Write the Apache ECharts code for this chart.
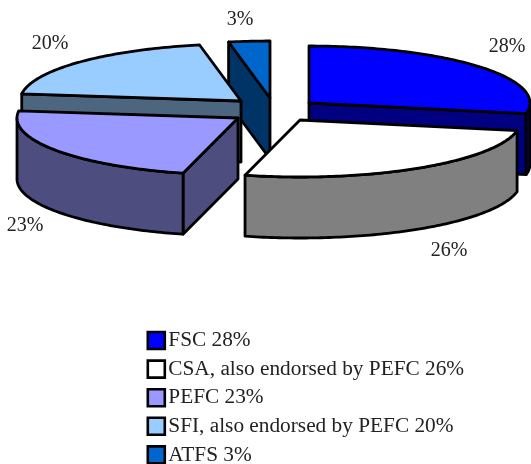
<!DOCTYPE html>
<html><head><meta charset="utf-8">
<style>html,body{margin:0;padding:0;background:#fff}#c{width:531px;height:464px}</style>
<script src="https://cdn.jsdelivr.net/npm/echarts@6/dist/echarts.min.js"></script>
</head><body><div id="c"></div>
<script>
// data
var names = ['FSC', 'CSA, also endorsed by PEFC', 'PEFC', 'SFI, also endorsed by PEFC', 'ATFS'];
var values = [28, 26, 23, 20, 3];
// styles
var topColors = ['#0000ff', '#ffffff', '#9999ff', '#99ccff', '#0066cc'];
var sideColors = ['#000080', '#808080', '#4d4d80', '#4d6680', '#003366'];
// layout: where each exploded wedge's tip sits, its label, and its paint order
var tipX = [309, 300, 238, 241, 270];
var tipY = [103, 120, 118, 101, 98];
var labelX = [507, 449, 25, 50, 240];
var labelY = [47, 251, 226, 44, 20];
var paintOrder = [2, 5, 4, 3, 1];
var RX = 221, RY = 57, DEPTH = 61;

var total = values.reduce(function (a, b) { return a + b; }, 0);
var starts = [], acc = 0;
values.forEach(function (v) { starts.push(acc / total * 360); acc += v; });
function rad(d) { return d * Math.PI / 180; }
function pt(i, deg, dz) {
  return [tipX[i] + RX * Math.sin(rad(deg)), tipY[i] - RY * Math.cos(rad(deg)) + (dz || 0)];
}
function arc(i, a, b, dz) {
  var out = [], n = Math.max(2, Math.ceil(Math.abs(b - a)));
  for (var k = 0; k <= n; k++) out.push(pt(i, a + (b - a) * k / n, dz));
  return out;
}
var line = { stroke: '#000', lineWidth: 2.8, lineJoin: 'round' };
function poly(points, fill) {
  return { type: 'polygon', shape: { points: points }, style: Object.assign({ fill: fill }, line) };
}
function renderSlice(i) {
  return function () {
    var s = starts[i], e = s + values[i] / total * 360;
    var tip = [tipX[i], tipY[i]], tipB = [tipX[i], tipY[i] + DEPTH];
    var kids = [];
    var normS = s - 90, normE = e + 90;
    function faces(n) { var c = -Math.cos(rad(n)); return c > 0.01; }
    if (faces(normS)) kids.push(poly([tip, pt(i, s), pt(i, s, DEPTH), tipB], sideColors[i]));
    if (faces(normE)) kids.push(poly([tip, pt(i, e), pt(i, e, DEPTH), tipB], sideColors[i]));
    var ra = Math.max(s, 90), rb = Math.min(e, 270);
    if (rb > ra) kids.push(poly(arc(i, ra, rb).concat(arc(i, rb, ra, DEPTH)), sideColors[i]));
    kids.push(poly([tip].concat(arc(i, s, e)), topColors[i]));
    kids.push({ type: 'text', z2: 100, style: {
      x: labelX[i], y: labelY[i], text: values[i] + '%', fill: '#222',
      font: '20px "Liberation Serif"', textAlign: 'center', textVerticalAlign: 'middle'
    } });
    return { type: 'group', children: kids };
  };
}
var series = names.map(function (n, i) {
  return {
    type: 'custom', coordinateSystem: 'none', name: n + ' ' + values[i] + '%',
    z: 2 + paintOrder[i], silent: true, animation: false,
    itemStyle: { color: topColors[i] },
    renderItem: renderSlice(i), data: [values[i]]
  };
});
var chart = echarts.init(document.getElementById('c'), null, { renderer: 'canvas' });
chart.setOption({
  animation: false,
  backgroundColor: '#fff',
  legend: {
    orient: 'vertical', left: 146.5, top: 330, padding: 0, height: 200, width: 380,
    itemWidth: 17, itemHeight: 17, itemGap: 7.6, selectedMode: false, icon: 'rect',
    itemStyle: { borderColor: '#000', borderWidth: 2.6 },
    textStyle: { fontFamily: 'Liberation Serif', fontSize: 21.3, color: '#222', padding: [0, 0, 0, -1.5] },
    data: names.map(function (n, i) { return { name: n + ' ' + values[i] + '%' }; })
  },
  series: series
});
</script></body></html>
